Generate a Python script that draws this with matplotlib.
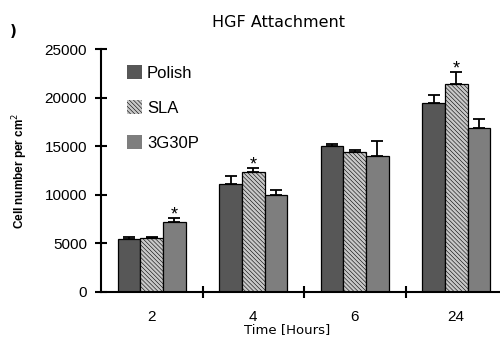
import numpy as np
import matplotlib
matplotlib.use('Agg')
import matplotlib.pyplot as plt

# data
times = ['2', '4', '6', '24']
groups = ['Polish', 'SLA', '3G30P']
polish = [5430, 11100, 15020, 19450]
polish_err = [240, 800, 210, 860]
sla = [5530, 12340, 14370, 21410]
sla_err = [70, 420, 210, 1270]
g30p = [7220, 9970, 14020, 16880]
g30p_err = [410, 480, 1520, 960]
# (group index, series index) of significant bars
stars = [(0, 2), (1, 1), (3, 1)]

W, H = 500, 338
fig = plt.figure(figsize=(W / 100, H / 100), dpi=100)
ax = fig.add_axes([101 / W, 1 - 291.7 / H, (W - 101) / W, (291.7 - 49.2) / H])

x = np.arange(len(times)) + 0.5
bw = 0.224
series = [polish, sla, g30p]
errs = [polish_err, sla_err, g30p_err]
faces = ['#575757', '#c8c8c8', '#7e7e7e']
hatches = [None, '\\\\\\\\\\\\\\\\', None]

plt.rcParams['hatch.linewidth'] = 0.4
plt.rcParams['hatch.color'] = '#8a8a8a'

bars = []
for i in range(3):
    xs = x + (i - 1) * bw
    b = ax.bar(xs, series[i], bw, color=faces[i], edgecolor='black', linewidth=0.9,
               hatch=hatches[i], label=groups[i], zorder=2)
    bars.append(b)
    ax.errorbar(xs, series[i], yerr=[np.zeros(4), errs[i]], fmt='none', ecolor='black',
                elinewidth=1.3, capsize=4.5, capthick=1.3, zorder=3)

for g, s in stars:
    xs = x[g] + (s - 1) * bw
    top = series[s][g] + errs[s][g]
    ax.annotate('*', (xs, top), xytext=(0, -4), textcoords='offset points',
                ha='center', va='bottom', fontsize=13, family='Liberation Sans')

ax.set_xlim(0, (W - 101) / 101.5)
ax.set_ylim(0, 25000)
for sp in ['top', 'right']:
    ax.spines[sp].set_visible(False)
ax.spines['left'].set_linewidth(1.5)
ax.spines['bottom'].set_linewidth(1.5)

ax.set_yticks([0, 5000, 10000, 15000, 20000, 25000])
ax.set_yticklabels(['0', '5000', '10000', '15000', '20000', '25000'],
                   family='Liberation Sans', fontsize=11)
ax.tick_params(axis='y', direction='inout', length=8, width=1.5, pad=6)

ax.set_xticks([1, 2, 3])
ax.set_xticklabels([])
ax.tick_params(axis='x', which='major', direction='inout', length=8, width=1.5)
ax.set_xticks(x, minor=True)
ax.set_xticklabels(times, minor=True, family='Liberation Sans', fontsize=11)
ax.tick_params(axis='x', which='minor', length=0, pad=13)

ax.set_xlabel('Time [Hours]', family='DejaVu Sans', fontsize=9.5)
ax.xaxis.set_label_coords((287 - 101) / (W - 101), -0.13)
ax.set_ylabel('Cell number per cm$^2$', family='Liberation Sans', fontsize=8.5,
              fontweight='bold', va='center')
ax.yaxis.set_label_coords(-(101 - 20) / (W - 101), 0.5)

fig.text(278 / W, 1 - 22.5 / H, 'HGF Attachment', ha='center', va='center',
         family='DejaVu Sans', fontsize=11.5)
fig.text(13 / W, 1 - 32 / H, ')', ha='center', va='center', fontsize=11,
         fontweight='bold')

ax.legend(handles=bars, loc='upper left', bbox_to_anchor=(26 / (W - 101), 1 - 16 / 242.5),
          frameon=False, prop={'family': 'Liberation Sans', 'size': 12},
          handlelength=0.9, handleheight=0.9, handletextpad=0.3, labelspacing=1.15,
          borderaxespad=0, borderpad=0)
for h in ax.get_legend().legend_handles:
    h.set_linewidth(0)

fig.savefig('out.png', dpi=100)
